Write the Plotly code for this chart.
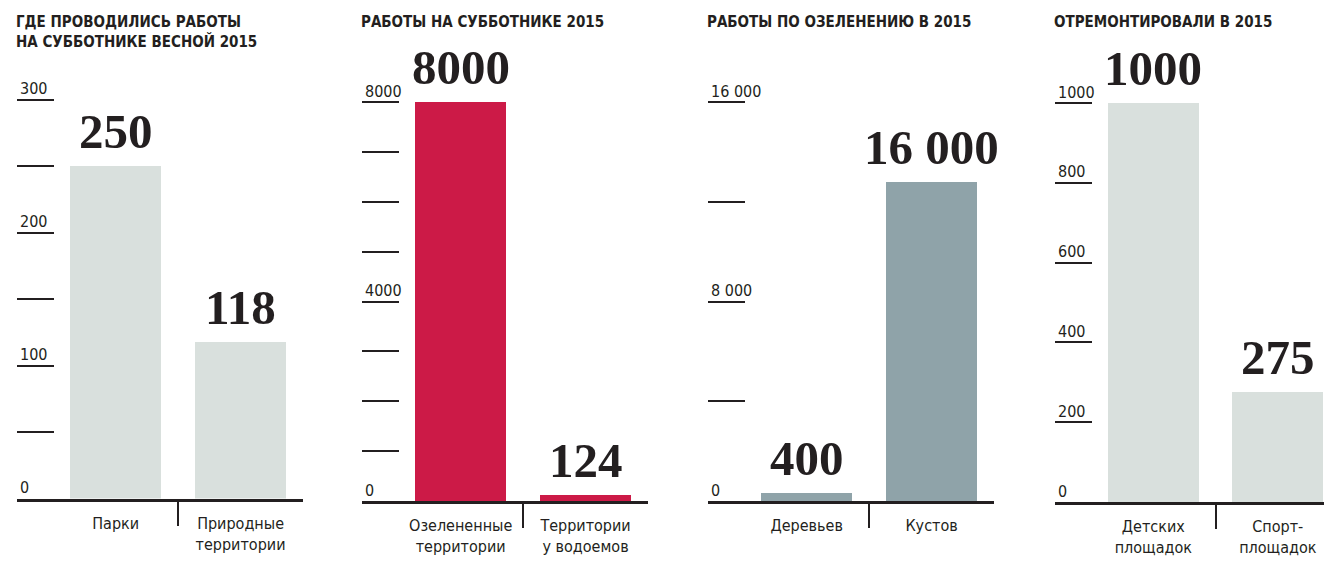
import plotly.graph_objects as go

# panel titles
titles = [
    "ГДЕ ПРОВОДИЛИСЬ РАБОТЫ<br>НА СУББОТНИКЕ ВЕСНОЙ 2015",
    "РАБОТЫ НА СУББОТНИКЕ 2015",
    "РАБОТЫ ПО ОЗЕЛЕНЕНИЮ В 2015",
    "ОТРЕМОНТИРОВАЛИ В 2015",
]

# categories / values per panel
cats1 = ["Парки", "Природные<br>территории"]
vals1 = [250, 118]
text1 = ["250", "118"]

cats2 = ["Озелененные<br>территории", "Территории<br>у водоемов"]
vals2 = [8000, 124]
text2 = ["8000", "124"]

cats3 = ["Деревьев", "Кустов"]
vals3 = [400, 16000]
text3 = ["400", "16 000"]

cats4 = ["Детских<br>площадок", "Спорт-<br>площадок"]
vals4 = [1000, 275]
text4 = ["1000", "275"]

# y axis ticks (the source's third axis tops out at 20 000 but is labelled 16 000)
yticks1 = [0, 50, 100, 150, 200, 250, 300]
ylabels1 = ["0", "", "100", "", "200", "", "300"]
yticks2 = [0, 1000, 2000, 3000, 4000, 5000, 6000, 7000, 8000]
ylabels2 = ["0", "", "", "", "4000", "", "", "", "8000"]
yticks3 = [0, 5000, 10000, 15000, 20000]
ylabels3 = ["0", "", "8 000", "", "16 000"]
yticks4 = [0, 200, 400, 600, 800, 1000]
ylabels4 = ["0", "200", "400", "600", "800", "1000"]

colors = ["#d9e0dd", "#cc1a47", "#8fa3a9", "#d9e0dd"]

INK = "#231f20"
SANS = "DejaVu Sans Condensed, Roboto, sans-serif"
SERIF = "Liberation Serif, DejaVu Serif, serif"

W, H = 1332, 569
OFF = 8  # page body margin, the figure sits 8px right/down in the window

# (cats, vals, text, tickvals, ticktext, top tick value, x px span, (y0 px, ytop px), x max)
panels = [
    (cats1, vals1, text1, yticks1, ylabels1, 300, (17, 303), (498.5, 99.5), 1.5),
    (cats2, vals2, text2, yticks2, ylabels2, 8000, (362, 648), (501, 102), 1.5),
    (cats3, vals3, text3, yticks3, ylabels3, 20000, (708, 994), (501, 102), 1.5),
    (cats4, vals4, text4, yticks4, ylabels4, 1000, (1055, 1340), (502, 103), 1.5),
]

fig = go.Figure()

for i, (cats, vals, txt, ytv, ytt, ytop, xpx, ypx, xmax) in enumerate(panels):
    n = "" if i == 0 else str(i + 1)
    lab = str(i + 5)  # overlay axis that only carries the tick labels
    rmax = ytop * 1.03
    y0p = ypx[0] - OFF
    ytp = y0p - (ypx[0] - ypx[1]) * rmax / ytop
    xd = [(xpx[0] - OFF) / W, min(1, (xpx[1] - OFF) / W)]
    yd = [1 - y0p / H, 1 - ytp / H]

    fig.add_trace(go.Bar(
        x=[0, 1], y=vals, width=0.728,
        marker=dict(color=colors[i], line=dict(width=0)),
        cliponaxis=False, hoverinfo="skip",
        xaxis="x" + n, yaxis="y" + n, showlegend=False,
    ))
    fig.add_trace(go.Scatter(
        x=[None], y=[None], xaxis="x" + n, yaxis="y" + lab,
        showlegend=False, hoverinfo="skip",
    ))
    # value labels above the bars
    for c, v, t in zip([0, 1], vals, txt):
        fig.add_annotation(
            x=c, y=v, xref="x" + n, yref="y" + n, text=t,
            showarrow=False, yanchor="bottom", yshift=5,
            font=dict(family=SERIF, size=49, color=INK, weight="bold"),
        )
    fig.update_layout(**{
        "xaxis" + n: dict(
            domain=xd, anchor="y" + n,
            range=[-0.79, xmax], tickvals=[0, 1], ticktext=cats,
            ticks="", showgrid=False, zeroline=False,
            showline=True, linewidth=3, linecolor=INK,
            tickfont=dict(family=SANS, size=16, color=INK),
            ticklabelstandoff=8, automargin=False,
            minor=dict(tickvals=[0.5], ticks="outside", ticklen=24,
                       tickwidth=1.5, tickcolor=INK, showgrid=False),
            fixedrange=True,
        ),
        "yaxis" + n: dict(
            domain=yd, anchor="x" + n,
            range=[0, rmax], tickvals=ytv,
            ticks="inside", ticklen=37, tickwidth=1.5, tickcolor=INK,
            showticklabels=False, automargin=False,
            showgrid=False, zeroline=False, showline=False,
            fixedrange=True,
        ),
        "yaxis" + lab: dict(
            overlaying="y" + n, anchor="x" + n, side="left",
            range=[0, rmax], tickvals=ytv, ticktext=ytt, ticks="",
            ticklabelposition="inside", ticklabelshift=-11,
            ticklabeloverflow="allow", ticklabelstandoff=0,
            tickfont=dict(family=SANS, size=16, color=INK),
            showgrid=False, zeroline=False, showline=False,
            automargin=False, fixedrange=True,
        ),
    })
    fig.add_annotation(
        text=titles[i], xref="paper", yref="paper",
        x=(xpx[0] - OFF - 2) / W, y=1 - (12 - OFF) / H,
        xanchor="left", yanchor="top",
        align="left", showarrow=False, borderpad=0,
        font=dict(family=SANS, size=15, color=INK, weight="bold"),
    )

fig.update_layout(
    width=W, height=H,
    margin=dict(l=0, r=0, t=0, b=0),
    paper_bgcolor="white", plot_bgcolor="white",
    bargap=0,
)

fig.write_html("out.html")
